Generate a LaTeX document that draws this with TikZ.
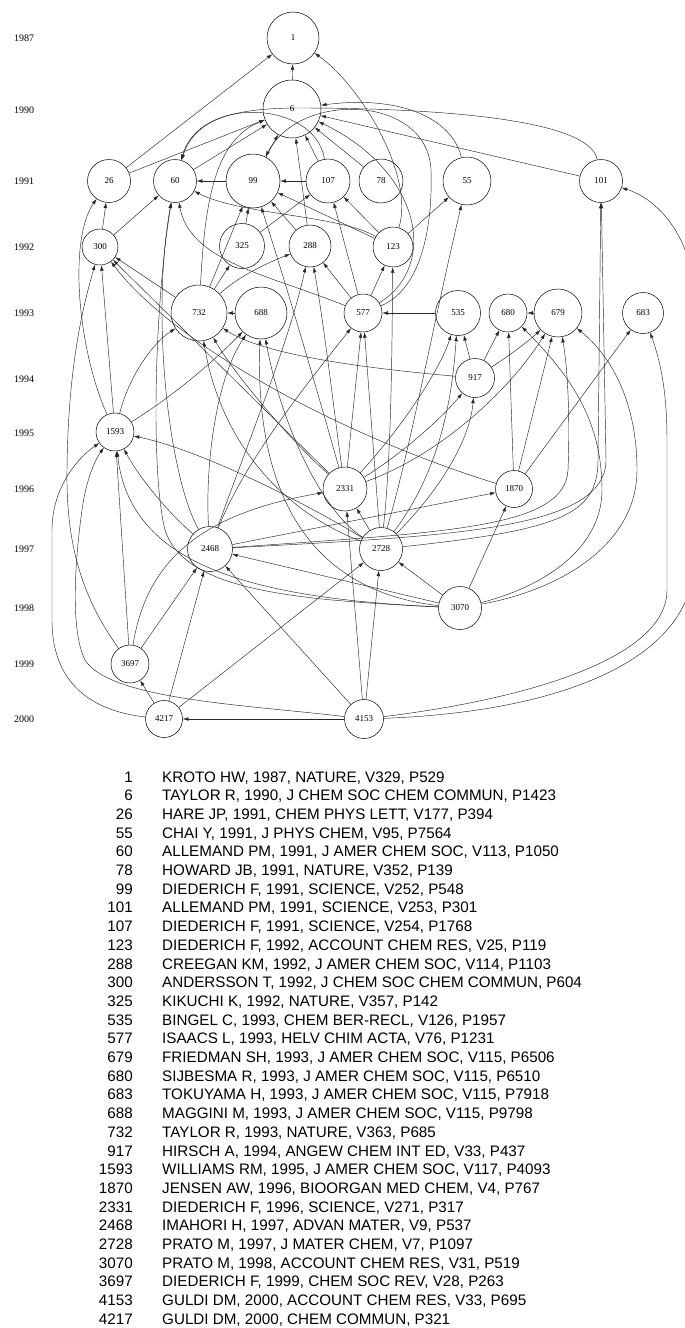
\documentclass[tikz,border=0pt]{standalone}
\usepackage{fontspec}
\newfontfamily\gfont{Liberation Serif}
\newfontfamily\lfont{Liberation Sans}
\usetikzlibrary{arrows.meta}
\tikzset{
  nd/.style={circle,draw,line width=0.5pt,inner sep=0pt,font=\gfont\fontsize{9}{9}\selectfont},
  e/.style={-{Latex[length=5.5pt,width=3.6pt]},line width=0.45pt,draw=black!85},
  yr/.style={font=\gfont\fontsize{10}{10}\selectfont,inner sep=0pt},
  lnum/.style={anchor=base east,inner sep=0pt,font=\lfont\fontsize{15.2}{15.2}\selectfont},
  ltxt/.style={anchor=base west,inner sep=0pt,font=\lfont\fontsize{15.2}{15.2}\selectfont}
}
\begin{document}
\begin{tikzpicture}[x=1pt,y=-1pt]
\useasboundingbox[fill=white] (0,0) rectangle (685,1328);
% years
\foreach \yy/\py in {1987/38,1990/110,1991/181,1992/247,1993/313,1994/379,1995/433,1996/489,1997/549,1998/608,1999/664,2000/719}
  \node[yr] (y\yy) at (24,\py) {\yy};
% nodes
\node[nd,minimum size=52pt] (n1) at (293,38) {1};
\node[nd,minimum size=58pt] (n6) at (292,109) {6};
\node[nd,minimum size=43pt] (n26) at (109,181) {26};
\node[nd,minimum size=43pt] (n60) at (175,181) {60};
\node[nd,minimum size=54pt] (n99) at (253,181) {99};
\node[nd,minimum size=44pt] (n107) at (328,181) {107};
\node[nd,minimum size=44pt] (n78) at (381,181) {78};
\node[nd,minimum size=48pt] (n55) at (467,181) {55};
\node[nd,minimum size=43pt] (n101) at (601,181) {101};
\node[nd,minimum size=36pt] (n300) at (100,247) {300};
\node[nd,minimum size=45pt] (n325) at (242,246) {325};
\node[nd,minimum size=42pt] (n288) at (310,246) {288};
\node[nd,minimum size=40pt] (n123) at (393,247) {123};
\node[nd,minimum size=56pt] (n732) at (199,313) {732};
\node[nd,minimum size=52pt] (n688) at (261,313) {688};
\node[nd,minimum size=38pt] (n577) at (363,313) {577};
\node[nd,minimum size=45pt] (n535) at (458,313) {535};
\node[nd,minimum size=38pt] (n680) at (508,313) {680};
\node[nd,minimum size=48pt] (n679) at (558,313) {679};
\node[nd,minimum size=41pt] (n683) at (643,313) {683};
\node[nd,minimum size=39pt] (n917) at (475,378) {917};
\node[nd,minimum size=38pt] (n1593) at (115,432) {1593};
\node[nd,minimum size=44pt] (n2331) at (345,489) {2331};
\node[nd,minimum size=37pt] (n1870) at (514,489) {1870};
\node[nd,minimum size=45pt] (n2468) at (210,549) {2468};
\node[nd,minimum size=43pt] (n2728) at (381,549) {2728};
\node[nd,minimum size=43pt] (n3070) at (460,608) {3070};
\node[nd,minimum size=38pt] (n3697) at (130,664) {3697};
\node[nd,minimum size=37pt] (n4217) at (164,719) {4217};
\node[nd,minimum size=39pt] (n4153) at (364,719) {4153};
% edges
\draw[e] (n6) -- (n1);
\draw[e] (n26) -- (n1);
\draw[e] (n123) .. controls (415,175) and (360,85) .. (n1);
\draw[e] (n26) -- (n6);
\draw[e] (n60) -- (n6);
\draw[e] (n99) -- (n6);
\draw[e] (n107) -- (n6);
\draw[e] (n78) -- (n6);
\draw[e] (n288) -- (n6);
\draw[e] (n101) -- (n6);
\draw[e] (n55) .. controls (452,118) and (400,95) .. (n6);
\draw[e] (n101) .. controls (590,118) and (430,108) .. (300,108) .. controls (235,108) and (195,118) .. (n60);
\draw[e] (n107) .. controls (315,100) and (200,95) .. (n60);
\draw[e] (n577) .. controls (420,290) and (433,230) .. (431,170) .. controls (428,95) and (300,90) .. (n99);
\draw[e] (n577) .. controls (440,265) and (420,170) .. (n6);
\draw[e] (n577) .. controls (270,275) and (190,262) .. (n60);
\draw[e] (n732) .. controls (205,200) and (215,140) .. (n6);
\draw[e] (n99) -- (n60);
\draw[e] (n107) -- (n99);
\draw[e] (n300) -- (n26);
\draw[e] (n300) -- (n60);
\draw[e] (n325) -- (n99);
\draw[e] (n325) -- (n107);
\draw[e] (n288) -- (n99);
\draw[e] (n123) -- (n107);
\draw[e] (n123) -- (n99);
\draw[e] (n123) .. controls (340,215) and (240,215) .. (n60);
\draw[e] (n123) -- (n55);
\draw[e] (n732) -- (n99);
\draw[e] (n732) -- (n300);
\draw[e] (n732) -- (n325);
\draw[e] (n732) .. controls (240,275) and (270,262) .. (n288);
\draw[e] (n688) -- (n732);
\draw[e] (n577) -- (n288);
\draw[e] (n577) -- (n107);
\draw[e] (n577) -- (n123);
\draw[e] (n535) -- (n577);
\draw[e] (n679) -- (n680);
\draw[e] (n917) -- (n535);
\draw[e] (n917) -- (n680);
\draw[e] (n917) .. controls (510,355) and (530,340) .. (n679);
\draw[e] (n917) .. controls (340,366) and (260,352) .. (n732);
\draw[e] (n1593) -- (n300);
\draw[e] (n1593) .. controls (78,350) and (68,240) .. (n26);
\draw[e] (n1593) .. controls (175,395) and (215,360) .. (n688);
\draw[e] (n1593) .. controls (128,380) and (150,345) .. (n732);
\draw[e] (n2331) -- (n577);
\draw[e] (n2331) .. controls (400,455) and (440,420) .. (n917);
\draw[e] (n2331) .. controls (400,430) and (440,370) .. (n535);
\draw[e] (n2331) .. controls (440,455) and (510,390) .. (n679);
\draw[e] (n2331) .. controls (300,330) and (275,250) .. (n99);
\draw[e] (n2331) .. controls (335,420) and (325,330) .. (n288);
\draw[e] (n2331) -- (n300);
\draw[e] (n2331) .. controls (290,440) and (235,375) .. (n732);
\draw[e] (n2728) -- (n2331);
\draw[e] (n2728) .. controls (300,500) and (200,450) .. (n1593);
\draw[e] (n2728) -- (n577);
\draw[e] (n2728) .. controls (392,450) and (392,330) .. (n123);
\draw[e] (n2728) .. controls (410,450) and (432,330) .. (n55);
\draw[e] (n2728) .. controls (440,470) and (452,400) .. (n535);
\draw[e] (n2728) .. controls (440,490) and (470,440) .. (n917);
\draw[e] (n2728) .. controls (280,510) and (220,440) .. (n732);
\draw[e] (n2728) .. controls (320,510) and (280,420) .. (n688);
\draw[e] (n2728) .. controls (560,530) and (598,515) .. (598,460) -- (n101);
\draw[e] (n1870) -- (n680);
\draw[e] (n1870) -- (n679);
\draw[e] (n1870) -- (n683);
\draw[e] (n1870) .. controls (330,432) and (170,340) .. (n300);
\draw[e] (n2468) .. controls (170,480) and (150,320) .. (n60);
\draw[e] (n2468) .. controls (205,470) and (215,380) .. (n688);
\draw[e] (n2468) .. controls (245,450) and (290,340) .. (n288);
\draw[e] (n2468) .. controls (245,460) and (310,380) .. (n577);
\draw[e] (n2468) .. controls (160,505) and (135,470) .. (n1593);
\draw[e] (n2468) -- (n1870);
\draw[e] (n2468) .. controls (450,532) and (565,528) .. (568,470) .. controls (570,420) and (568,370) .. (n679);
\draw[e] (n2468) .. controls (450,536) and (606,530) .. (606,460) -- (n101);
\draw[e] (n3070) -- (n2728);
\draw[e] (n3070) -- (n1870);
\draw[e] (n3070) -- (n2468);
\draw[e] (n3070) .. controls (250,598) and (130,565) .. (n1593);
\draw[e] (n3070) .. controls (300,590) and (255,480) .. (n688);
\draw[e] (n3070) .. controls (300,600) and (185,592) .. (165,530) .. controls (150,470) and (155,300) .. (n60);
\draw[e] (n3070) .. controls (560,590) and (637,545) .. (637,470) .. controls (637,400) and (610,355) .. (n679);
\draw[e] (n3070) .. controls (550,585) and (602,545) .. (602,490) .. controls (602,420) and (570,375) .. (n680);
\draw[e] (n3697) -- (n1593);
\draw[e] (n3697) -- (n2468);
\draw[e] (n3697) .. controls (145,570) and (190,515) .. (n2331);
\draw[e] (n3697) .. controls (80,595) and (66,540) .. (67,470) .. controls (68,360) and (85,300) .. (n300);
\draw[e] (n4217) -- (n3697);
\draw[e] (n4217) -- (n2468);
\draw[e] (n4217) -- (n2728);
\draw[e] (n4217) .. controls (100,712) and (52,690) .. (52,620) -- (52,530) .. controls (52,490) and (75,460) .. (n1593);
\draw[e] (n4153) -- (n4217);
\draw[e] (n4153) -- (n2331);
\draw[e] (n4153) -- (n2728);
\draw[e] (n4153) -- (n2468);
\draw[e] (n4153) .. controls (250,705) and (110,700) .. (85,660) .. controls (70,630) and (75,560) .. (82,510) .. controls (86,480) and (95,460) .. (n1593);
\draw[e] (n4153) .. controls (520,700) and (667,660) .. (667,590) -- (667,440) .. controls (667,390) and (660,360) .. (n683);
\draw[e] (n4153) .. controls (560,712) and (694,660) .. (694,560) -- (694,300) .. controls (694,240) and (660,200) .. (n101);
% legend
\foreach [count=\i] \nm/\tx in {
 1/{KROTO HW, 1987, NATURE, V329, P529},
 6/{TAYLOR R, 1990, J CHEM SOC CHEM COMMUN, P1423},
 26/{HARE JP, 1991, CHEM PHYS LETT, V177, P394},
 55/{CHAI Y, 1991, J PHYS CHEM, V95, P7564},
 60/{ALLEMAND PM, 1991, J AMER CHEM SOC, V113, P1050},
 78/{HOWARD JB, 1991, NATURE, V352, P139},
 99/{DIEDERICH F, 1991, SCIENCE, V252, P548},
 101/{ALLEMAND PM, 1991, SCIENCE, V253, P301},
 107/{DIEDERICH F, 1991, SCIENCE, V254, P1768},
 123/{DIEDERICH F, 1992, ACCOUNT CHEM RES, V25, P119},
 288/{CREEGAN KM, 1992, J AMER CHEM SOC, V114, P1103},
 300/{ANDERSSON T, 1992, J CHEM SOC CHEM COMMUN, P604},
 325/{KIKUCHI K, 1992, NATURE, V357, P142},
 535/{BINGEL C, 1993, CHEM BER-RECL, V126, P1957},
 577/{ISAACS L, 1993, HELV CHIM ACTA, V76, P1231},
 679/{FRIEDMAN SH, 1993, J AMER CHEM SOC, V115, P6506},
 680/{SIJBESMA R, 1993, J AMER CHEM SOC, V115, P6510},
 683/{TOKUYAMA H, 1993, J AMER CHEM SOC, V115, P7918},
 688/{MAGGINI M, 1993, J AMER CHEM SOC, V115, P9798},
 732/{TAYLOR R, 1993, NATURE, V363, P685},
 917/{HIRSCH A, 1994, ANGEW CHEM INT ED, V33, P437},
 1593/{WILLIAMS RM, 1995, J AMER CHEM SOC, V117, P4093},
 1870/{JENSEN AW, 1996, BIOORGAN MED CHEM, V4, P767},
 2331/{DIEDERICH F, 1996, SCIENCE, V271, P317},
 2468/{IMAHORI H, 1997, ADVAN MATER, V9, P537},
 2728/{PRATO M, 1997, J MATER CHEM, V7, P1097},
 3070/{PRATO M, 1998, ACCOUNT CHEM RES, V31, P519},
 3697/{DIEDERICH F, 1999, CHEM SOC REV, V28, P263},
 4153/{GULDI DM, 2000, ACCOUNT CHEM RES, V33, P695},
 4217/{GULDI DM, 2000, CHEM COMMUN, P321}} {
  \node[lnum] (k\i) at (133,{782+18.7*(\i-1)}) {\nm};
  \node[ltxt] (t\i) at (162,{782+18.7*(\i-1)}) {\tx};
}
\end{tikzpicture}
\end{document}
